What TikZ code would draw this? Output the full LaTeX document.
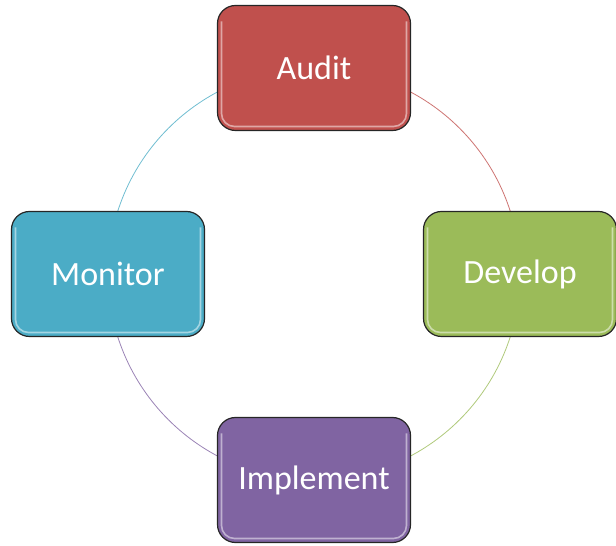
\documentclass[tikz,border=0pt]{standalone}
\usepackage{fontspec}
\setmainfont{Carlito}
\usetikzlibrary{backgrounds}
\definecolor{AuditRed}{HTML}{C0504D}
\definecolor{DevelopGreen}{HTML}{9BBB59}
\definecolor{ImplementPurple}{HTML}{8064A2}
\definecolor{MonitorBlue}{HTML}{4BACC6}

\begin{document}
\begin{tikzpicture}[x=1pt,y=1pt,
    font=\fontsize{34}{40}\selectfont,
    declare function={ringrad=206;},
    box color/.code={\colorlet{boxcolor}{#1}},
    box color=AuditRed,
    stepbox/.style={draw=black!85,line width=1.2pt,fill=boxcolor,
            text=white,rounded corners=18pt,inner sep=0pt,
            minimum width=193pt,minimum height=125pt,
            path picture={\draw[white,opacity=.5,line width=1.6pt,rounded corners=13pt]
              ([shift={(4pt,-16pt)}]path picture bounding box.north west) --
              ([shift={(4pt,4pt)}]path picture bounding box.south west) --
              ([shift={(-4pt,4pt)}]path picture bounding box.south east) --
              ([shift={(-4pt,-16pt)}]path picture bounding box.north east);}},
    cycle arc/.style={line width=0.8pt}]
    \useasboundingbox (0,0) rectangle (616,546);
    \coordinate (centre) at (314,272);
    % the four steps round the circle
    \node[stepbox,box color=AuditRed] (audit) at ([shift={(90:ringrad)}]centre) {Audit};
    \node[stepbox,box color=DevelopGreen] (develop) at ([shift={(0:ringrad)}]centre) {Develop};
    \node[stepbox,box color=ImplementPurple] (implement) at ([shift={(270:ringrad)}]centre) {Implement};
    \node[stepbox,box color=MonitorBlue] (monitor) at ([shift={(180:ringrad)}]centre) {Monitor};
    \begin{scope}[on background layer]
      \draw[cycle arc,AuditRed!80] (audit.center) arc[start angle=90,end angle=0,radius=ringrad];
      \draw[cycle arc,DevelopGreen!80] (develop.center) arc[start angle=0,end angle=-90,radius=ringrad];
      \draw[cycle arc,ImplementPurple!80] (implement.center) arc[start angle=270,end angle=180,radius=ringrad];
      \draw[cycle arc,MonitorBlue!80] (monitor.center) arc[start angle=180,end angle=90,radius=ringrad];
    \end{scope}
\end{tikzpicture}
\end{document}
